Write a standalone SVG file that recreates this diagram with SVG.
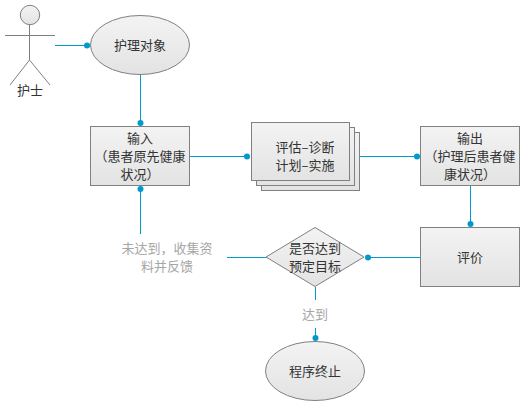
<svg xmlns="http://www.w3.org/2000/svg" width="520" height="401" viewBox="0 0 520 401">
<style>
text{font-family:"Noto Sans CJK SC","Liberation Sans",sans-serif;font-size:13px;fill:#333;text-anchor:middle}
.s{fill:url(#g);stroke:#808080;stroke-width:1}
.l{fill:none;stroke:#0099cc;stroke-width:1}
.d{fill:#0099cc}
.e{fill:#a6a6a6}
</style>
<defs><linearGradient id="g" x1="0" y1="0" x2="0" y2="1"><stop offset="0" stop-color="#f3f3f3"/><stop offset="1" stop-color="#e3e3e3"/></linearGradient></defs>
<g id="connectors">
<path class="l" d="M55 45.5H87"/><circle class="d" cx="87" cy="45.5" r="3"/>
<path class="l" d="M140.500 75V123"/><circle class="d" cx="140.500" cy="123" r="3"/>
<path class="l" d="M190 156.500H247"/><circle class="d" cx="247" cy="156.500" r="3"/>
<path class="l" d="M360 156.500H417"/><circle class="d" cx="417" cy="156.500" r="3"/>
<path class="l" d="M470.500 186V224"/><circle class="d" cx="470.500" cy="224" r="3"/>
<path class="l" d="M420 257.500H368"/><circle class="d" cx="368" cy="257.500" r="3"/>
<path class="l" d="M266 257.500H227"/>
<path class="l" d="M140.500 234V189"/><circle class="d" cx="140.500" cy="189" r="3"/>
<path class="l" d="M315.500 287V300"/>
<path class="l" d="M315.500 328V338"/><circle class="d" cx="315.500" cy="338" r="3"/>
</g>
<g id="actor">
<circle class="s" cx="30" cy="15" r="9.700"/>
<path d="M29.500 25V60M5 35.500H55M10 85L29.500 60L50 85" fill="none" stroke="#808080"/>
<text x="30" y="95">护士</text>
</g>
<g id="patient"><ellipse class="s" cx="140" cy="45" rx="49.500" ry="29.500"/><text x="140" y="50">护理对象</text></g>
<g id="input"><rect class="s" x="90.500" y="126.500" width="99" height="59"/><text x="140" y="143">输入</text><text x="140" y="161">（患者原先健康</text><text x="140" y="179">状况）</text></g>
<g id="process">
<rect class="s" x="261.500" y="132.500" width="98" height="58"/>
<rect class="s" x="256.500" y="127.500" width="98" height="58"/>
<rect class="s" x="251.500" y="122.500" width="98" height="58"/>
<text x="305" y="152">评估–诊断</text><text x="305" y="170">计划–实施</text>
</g>
<g id="output"><rect class="s" x="420.500" y="126.500" width="99" height="59"/><text x="470" y="143">输出</text><text x="470" y="161">（护理后患者健</text><text x="470" y="179">康状况）</text></g>
<g id="evaluate"><rect class="s" x="420.500" y="227.500" width="99" height="59"/><text x="470" y="262">评价</text></g>
<g id="decision"><polygon class="s" points="315,227.500 364,257 315,286.500 266,257"/><text x="315" y="253">是否达到</text><text x="315" y="271">预定目标</text></g>
<g id="end"><ellipse class="s" cx="315" cy="371" rx="49.500" ry="29.500"/><text x="315" y="376">程序终止</text></g>
<g id="labels">
<text class="e" x="167" y="253">未达到，收集资</text><text class="e" x="167" y="271">料并反馈</text>
<text class="e" x="315" y="319">达到</text>
</g>
</svg>
